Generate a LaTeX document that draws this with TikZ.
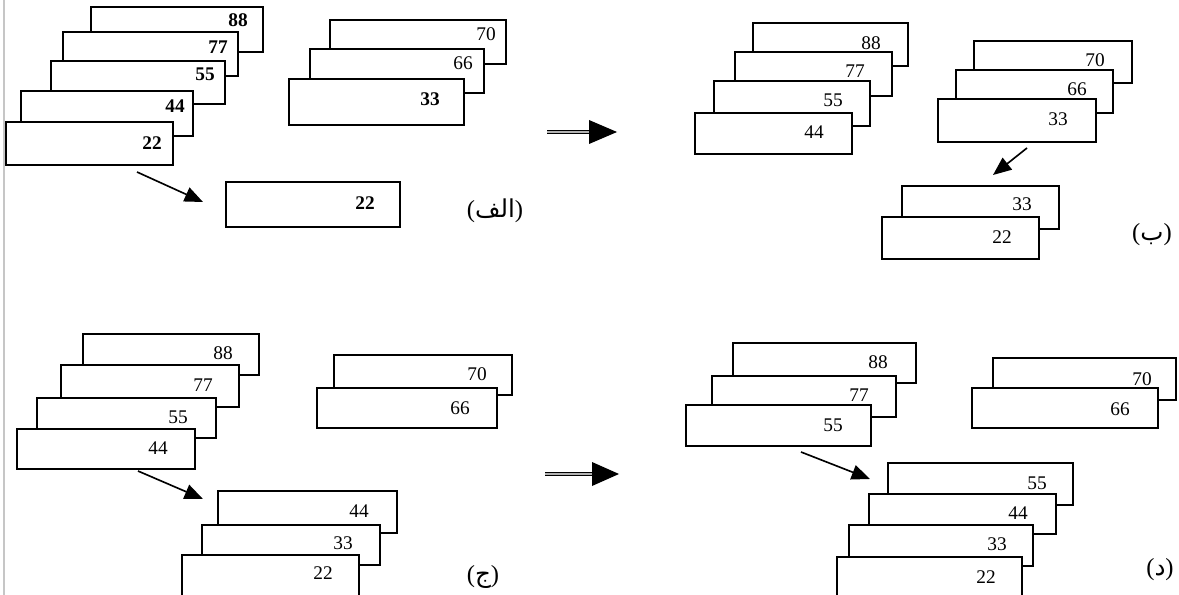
\documentclass[tikz,border=0pt]{standalone}
\usepackage{fontspec}
\setmainfont{Liberation Serif}
\newfontfamily\arabicfont[Script=Arabic]{DejaVu Sans}
\TeXXeTstate=1
\usetikzlibrary{arrows.meta}
\newcommand\cardnode[9][num]{%
  \node[cardbox, minimum width={(#4-#2)*0.03cm}, minimum height={(#5-#3)*0.03cm}, anchor=north west] (#6) at (#2,#3) {};
  \node[#1] (#6t) at (#7,#8) {#9};
}
\tikzset{
  cardbox/.style={draw=black, fill=white, line width=1.5pt, inner sep=0pt, outer sep=0pt},
  num/.style={font=\fontsize{16.5}{18}\selectfont, inner sep=0pt},
  numb/.style={font=\fontsize{16.5}{18}\selectfont\bfseries, inner sep=0pt},
  arr/.style={line width=1.4pt, -{Triangle[length=0.55cm,width=0.45cm]}},
  dblshaft/.style={line width=1pt, double=gray!60, double distance=0.07cm},
  lbl/.style={font=\fontsize{21}{24}\selectfont, inner sep=0pt},
}
\begin{document}
\begin{tikzpicture}[x=0.03cm, y=-0.03cm]
\useasboundingbox (0,0) rectangle (1179,595);
\clip (0,0) rectangle (1179,595);
\fill[white] (0,0) rectangle (1179,595);
\draw[gray!45, line width=1.5pt] (4,0) -- (4,595);

% ---------- Panel A ----------
\cardnode[numb]{91}{7}{263}{52}{A88}{238}{20}{88}
\cardnode[numb]{63}{32}{238}{76}{A77}{218}{47}{77}
\cardnode[numb]{51}{61}{225}{104}{A55}{205}{74}{55}
\cardnode[numb]{21}{91}{193}{136}{A44}{175}{106}{44}
\cardnode[numb]{6}{122}{173}{165}{A22}{152}{143}{22}
\coordinate (aAs) at (137,172);
\coordinate (aAe) at (203,202);
\draw[arr] (aAs) -- (aAe);
\cardnode[numb]{226}{182}{400}{227}{A22b}{365}{203}{22}
\cardnode{330}{20}{506}{64}{A70}{486}{34}{70}
\cardnode{310}{49}{484}{93}{A66}{463}{63}{66}
\cardnode[numb]{289}{79}{464}{125}{A33}{430}{99}{33}
\node[lbl] (labA) at (495,211) {({\arabicfont\beginR الف\endR})};

% double arrow A -> B
\coordinate (d1s) at (547,132);
\coordinate (d1m) at (591,132);
\coordinate (d1t) at (617,132);
\draw[dblshaft] (d1s) -- (d1m);
\fill[black] (589,120) -- (d1t) -- (589,144) -- cycle;

% ---------- Panel B ----------
\cardnode{753}{23}{908}{66}{B88}{871}{43}{88}
\cardnode{735}{52}{892}{96}{B77}{855}{71}{77}
\cardnode{714}{81}{870}{126}{B55}{833}{100}{55}
\cardnode{695}{113}{852}{154}{B44}{814}{132}{44}
\cardnode{974}{41}{1132}{83}{B70}{1095}{60}{70}
\cardnode{956}{70}{1113}{113}{B66}{1077}{89}{66}
\cardnode{938}{99}{1096}{142}{B33}{1058}{119}{33}
\coordinate (aBs) at (1027,148);
\coordinate (aBe) at (993,175);
\draw[arr] (aBs) -- (aBe);
\cardnode{902}{186}{1059}{229}{B33b}{1022}{204}{33}
\cardnode{882}{217}{1039}{259}{B22b}{1002}{237}{22}
\node[lbl] (labB) at (1152,235) {({\arabicfont\beginR ب\endR})};

% ---------- Panel C ----------
\cardnode{83}{334}{259}{375}{C88}{223}{353}{88}
\cardnode{61}{365}{239}{407}{C77}{203}{385}{77}
\cardnode{37}{398}{216}{438}{C55}{178}{417}{55}
\cardnode{17}{429}{195}{469}{C44}{158}{448}{44}
\coordinate (aCs) at (138,471);
\coordinate (aCe) at (203,499);
\draw[arr] (aCs) -- (aCe);
\cardnode{218}{491}{397}{533}{C44b}{359}{511}{44}
\cardnode{202}{525}{380}{565}{C33b}{343}{543}{33}
\cardnode{182}{555}{359}{600}{C22b}{323}{573}{22}
\cardnode{334}{355}{512}{395}{C70}{477}{374}{70}
\cardnode{317}{388}{497}{428}{C66}{460}{408}{66}
\node[lbl] (labC) at (483,577) {({\arabicfont\beginR ج\endR})};

% double arrow C -> D
\coordinate (d2s) at (545,474);
\coordinate (d2m) at (594,474);
\coordinate (d2t) at (619,474);
\draw[dblshaft] (d2s) -- (d2m);
\fill[black] (592,462) -- (d2t) -- (592,486) -- cycle;

% ---------- Panel D ----------
\cardnode{733}{343}{916}{383}{D88}{878}{362}{88}
\cardnode{712}{376}{896}{417}{D77}{859}{395}{77}
\cardnode{686}{405}{871}{446}{D55}{833}{425}{55}
\coordinate (aDs) at (801,452);
\coordinate (aDe) at (870,479);
\draw[arr] (aDs) -- (aDe);
\cardnode{888}{463}{1073}{505}{D55b}{1037}{483}{55}
\cardnode{869}{494}{1056}{534}{D44b}{1018}{513}{44}
\cardnode{849}{525}{1033}{566}{D33b}{997}{544}{33}
\cardnode{837}{557}{1022}{600}{D22b}{986}{577}{22}
\cardnode{993}{358}{1176}{400}{D70}{1142}{379}{70}
\cardnode{972}{388}{1158}{428}{D66}{1120}{409}{66}
\node[lbl] (labD) at (1160,570) {({\arabicfont\beginR د\endR})};
\end{tikzpicture}
\end{document}
